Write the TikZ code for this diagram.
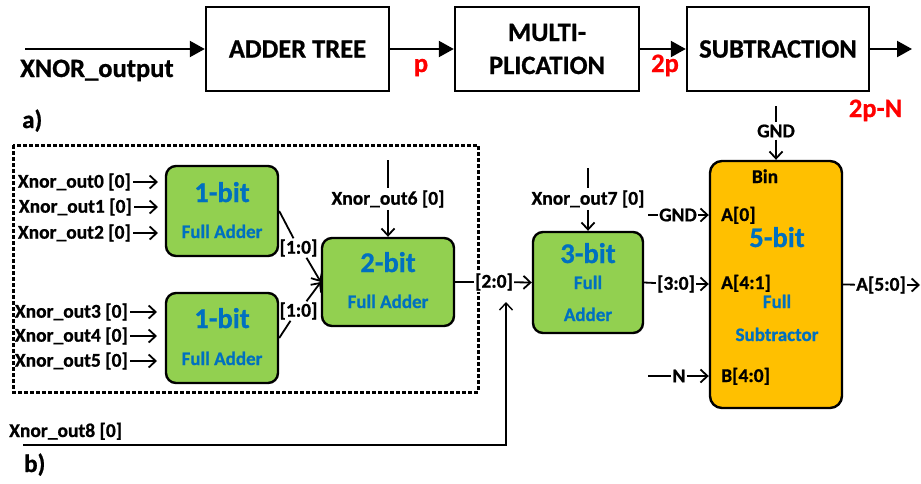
\documentclass[tikz,border=0pt]{standalone}
\usepackage{fontspec}
\setmainfont{Carlito}[BoldFeatures={FakeBold=0.8}]
\usetikzlibrary{arrows.meta}
\definecolor{fagreen}{HTML}{92D050}
\definecolor{fsorange}{HTML}{FFC000}
\definecolor{txtblue}{HTML}{0070C0}
\definecolor{sigred}{HTML}{FF0000}
\begin{document}
\begin{tikzpicture}[x=1pt,y=-1pt,
  topbox/.style={draw, line width=2.4pt, inner sep=0pt, minimum height=84pt, align=center, font=\fontsize{26.5}{33}\selectfont\bfseries},
  topar/.style={line width=2.2pt, -{Triangle[length=15pt,width=16pt]}},
  redlbl/.style={text=sigred, inner sep=0pt, anchor=base, font=\fontsize{26.5}{31}\selectfont\bfseries},
  biglbl/.style={inner sep=0pt, anchor=base west, font=\fontsize{26.5}{31}\selectfont\bfseries},
  fabox/.style={draw, line width=2.4pt, rounded corners=10pt, fill=fagreen, inner sep=0pt},
  fsbox/.style={draw, line width=2.4pt, rounded corners=12pt, fill=fsorange, inner sep=0pt},
  bluebig/.style={text=txtblue, inner sep=0pt, anchor=base, font=\fontsize{28.5}{33}\selectfont\bfseries},
  bluesm/.style={text=txtblue, inner sep=0pt, anchor=base, font=\fontsize{19}{22}\selectfont\bfseries},
  lbl/.style={inner sep=2pt, font=\fontsize{19.5}{22}\selectfont\bfseries},
  pinlbl/.style={inner sep=0pt, anchor=base west, font=\fontsize{19.5}{22}\selectfont\bfseries},
  wire/.style={line width=1.8pt},
  sar/.style={line width=1.8pt, -{Straight Barb[length=7pt,width=13pt]}},
  dashbox/.style={line width=3pt, dash pattern=on 4pt off 2pt}
]
\useasboundingbox (0,0) rectangle (921,483);

% ---- a) top row
\node[topbox, minimum width=183pt] (adder) at (297.5,49) {ADDER TREE};
\node[topbox, minimum width=184pt] (mult) at (547,49) {MULTI-\\PLICATION};
\node[topbox, minimum width=182pt] (subtr) at (778,49) {SUBTRACTION};
\coordinate (xin) at (25,49);
\coordinate (xout) at (912,49);
\draw[topar] (xin) -- (adder);
\draw[topar] (adder) -- (mult);
\draw[topar] (mult) -- (subtr);
\draw[topar] (subtr) -- (xout);
\node[biglbl] (xlab) at (20,77) {XNOR\_output};
\node[redlbl] (p1) at (421,72) {p};
\node[redlbl] (p2) at (665,72) {2p};
\node[redlbl] (p3) at (875.5,117) {2p-N};
\node[biglbl, font=\fontsize{25}{30}\selectfont\bfseries] (la) at (22,128) {a)};
\node[biglbl, font=\fontsize{25}{30}\selectfont\bfseries] (lb) at (24,472) {b)};

% ---- b) dashed group
\draw[dashbox] (13,145) rectangle (478,392);

% green adders
\node[fabox, minimum width=112pt, minimum height=90pt] (fa1) at (222,211) {};
\node[bluebig] (fa1t) at (222,202) {1-bit};
\node[bluesm] (fa1s) at (222,238) {Full Adder};
\node[fabox, minimum width=112pt, minimum height=90pt] (fa1b) at (222,338) {};
\node[bluebig] (fa1bt) at (222,328) {1-bit};
\node[bluesm] (fa1bs) at (222,365) {Full Adder};
\node[fabox, minimum width=132pt, minimum height=88pt] (fa2) at (388,282) {};
\node[bluebig] (fa2t) at (388,272) {2-bit};
\node[bluesm] (fa2s) at (388,308) {Full Adder};
\node[fabox, minimum width=110pt, minimum height=101pt] (fa3) at (588,282.5) {};
\node[bluebig] (fa3t) at (588,263) {3-bit};
\node[bluesm] (fa3s) at (588,289) {Full};
\node[bluesm] (fa3u) at (588,321) {Adder};

% orange subtractor
\node[fsbox, minimum width=132pt, minimum height=247pt] (fs5) at (776,284.5) {};
\node[pinlbl, anchor=base] (bin) at (765,183) {Bin};
\node[bluebig] (fs5t) at (777,247) {5-bit};
\node[bluesm] (fs5s) at (777,308) {Full};
\node[bluesm] (fs5u) at (777,341) {Subtractor};
\node[pinlbl] (pa0) at (721,221) {A[0]};
\node[pinlbl] (pa41) at (721,289) {A[4:1]};
\node[pinlbl] (pb40) at (721,382) {B[4:0]};

% inputs of 1-bit adders
\foreach \i/\y/\xr/\xt in {0/182/133/158,1/207/134/158,2/233/133/158,3/312/130/157,4/336/130/157,5/361/130/157}{
  \node[lbl, anchor=east] (in\i) at (\xr,\y) {Xnor\_out\i\ [0]};
  \coordinate (ia\i) at (\xt,\y);
  \draw[sar] (in\i) -- (ia\i);
}

% 1-bit -> 2-bit
\node[lbl, inner sep=1pt] (b1) at (298.5,248) {[1:0]};
\node[lbl, inner sep=1pt] (b2) at (298.5,311) {[1:0]};
\draw[wire] (fa1.east) -- ([xshift=-5pt]b1.north);
\draw[sar] ([xshift=8pt]b1.south) -- (fa2.west);
\draw[wire] (fa1b.east) -- ([xshift=-8pt]b2.south);
\draw[sar] ([xshift=8pt]b2.north) -- (fa2.west);

% Xnor_out6
\coordinate (t6) at (388,160);
\node[lbl] (x6) at (388,199) {Xnor\_out6 [0]};
\draw[wire] (t6) -- (x6);
\draw[sar] (x6) -- (fa2);

% 2-bit -> 3-bit
\node[lbl, inner sep=1pt, fill=white] (b3) at (494,282) {[2:0]};
\draw[wire] (fa2.east) -- (b3);
\draw[sar] (b3) -- (fa3.west);

% Xnor_out7
\coordinate (t7) at (588,168);
\node[lbl] (x7) at (588,199) {Xnor\_out7 [0]};
\draw[wire] (t7) -- (x7);
\draw[sar] (x7) -- (fa3);

% Xnor_out8
\node[pinlbl] (x8) at (9,437) {Xnor\_out8 [0]};
\coordinate (s8) at (23,445);
\coordinate (e8) at (506,302);
\draw[sar, line width=1.4pt] (s8) -- (s8 -| e8) -- (e8);

% 3-bit -> subtractor
\node[lbl, inner sep=1pt] (b4) at (676,284) {[3:0]};
\draw[wire] (fa3.east) -- (b4);
\draw[sar] (b4) -- (b4 -| fs5.west);

% GND into A[0]
\coordinate (g1) at (648,215);
\node[lbl, inner sep=1pt] (gnd1) at (678,215) {GND};
\draw[wire] (g1) -- (gnd1);
\draw[sar] (gnd1) -- (gnd1 -| fs5.west);

% N into B
\coordinate (n1) at (648,376);
\node[lbl, inner sep=1pt] (nlab) at (679,376) {N};
\draw[wire] (n1) -- (nlab);
\draw[sar] (nlab) -- (nlab -| fs5.west);

% GND into Bin
\coordinate (g2) at (776,106);
\node[lbl] (gnd2) at (776,131) {GND};
\draw[wire] (g2) -- (gnd2);
\draw[sar] (gnd2) -- (fs5.north);

% output
\node[lbl, inner sep=1pt] (alab) at (881,285) {A[5:0]};
\coordinate (aout) at (920,285);
\draw[wire] (fs5.east) -- (alab);
\draw[sar] (alab) -- (aout);
\end{tikzpicture}
\end{document}
